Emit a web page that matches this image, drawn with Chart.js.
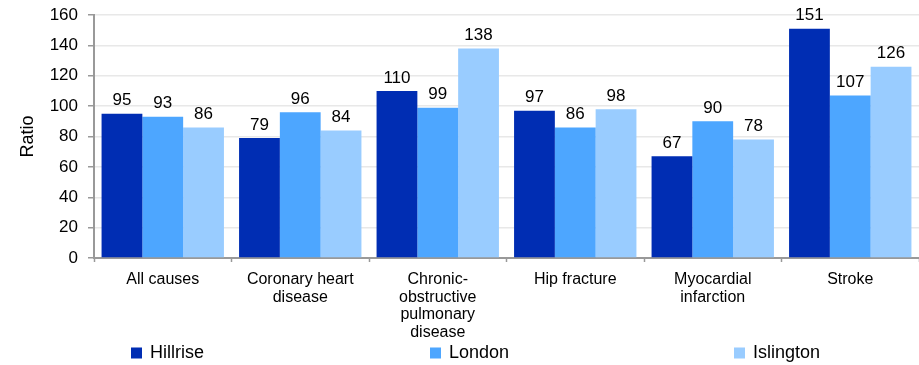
<!DOCTYPE html>
<html>
<head>
<meta charset="utf-8">
<script src="https://cdn.jsdelivr.net/npm/chart.js@4"></script>
<style>
  html, body { margin: 0; padding: 0; background: #fff; }
  #wrap { width: 919px; height: 365px; }
</style>
</head>
<body>
<div id="wrap"><canvas id="bar_chart" width="919" height="365"></canvas></div>
<script>
// categories and values
const categories = [
  'All causes',
  ['Coronary heart', 'disease'],
  ['Chronic-', 'obstructive', 'pulmonary', 'disease'],
  'Hip fracture',
  ['Myocardial', 'infarction'],
  'Stroke'
];
const hillrise  = [95, 79, 110, 97, 67, 151];
const london    = [93, 96, 99, 86, 90, 107];
const islington = [86, 84, 138, 98, 78, 126];
const yTicks    = [0, 20, 40, 60, 80, 100, 120, 140, 160];

const FONT = '"Liberation Sans", Arial, sans-serif';

// value labels above each bar
const valueLabels = {
  id: 'valueLabels',
  afterDatasetsDraw(chart) {
    const ctx = chart.ctx;
    ctx.save();
    ctx.font = '17px ' + FONT;
    ctx.fillStyle = '#000';
    ctx.textAlign = 'center';
    ctx.textBaseline = 'middle';
    chart.data.datasets.forEach((ds, i) => {
      chart.getDatasetMeta(i).data.forEach((bar, j) => {
        ctx.fillText(ds.data[j], bar.x, bar.y - 13);
      });
    });
    ctx.restore();
  }
};

// legend spread out along the bottom like the original
const spreadLegend = {
  id: 'spreadLegend',
  afterDraw(chart, args, opts) {
    const ctx = chart.ctx;
    ctx.save();
    ctx.font = '18px ' + FONT;
    ctx.textBaseline = 'middle';
    ctx.textAlign = 'left';
    chart.data.datasets.forEach((ds, i) => {
      const x = opts.xs[i];
      ctx.fillStyle = ds.backgroundColor;
      ctx.fillRect(x, opts.y - 5.5, 11, 11);
      ctx.fillStyle = '#000';
      ctx.fillText(ds.label, x + 19, opts.y);
    });
    ctx.restore();
  }
};

function dummyBarChart() {
  const ctx = document.getElementById('bar_chart');

  new Chart(ctx, {
    type: 'bar',
    data: {
      labels: categories,
      datasets: [
        { label: 'Hillrise',  data: hillrise,  backgroundColor: '#002DB3' },
        { label: 'London',    data: london,    backgroundColor: '#4DA6FF' },
        { label: 'Islington', data: islington, backgroundColor: '#99CCFF' }
      ]
    },
    plugins: [valueLabels, spreadLegend],
    options: {
      responsive: false,
      animation: false,
      layout: { padding: { top: 15, right: 0, bottom: 0, left: 0 } },
      datasets: {
        bar: { categoryPercentage: 0.89, barPercentage: 1.0 }
      },
      scales: {
        x: {
          offset: true,
          grid: {
            offset: true,
            drawOnChartArea: false,
            drawTicks: true,
            tickLength: 4,
            tickColor: '#999',
            tickWidth: 1.5
          },
          border: { color: '#999', width: 2 },
          ticks: {
            color: '#000',
            padding: 9,
            maxRotation: 0,
            autoSkip: false,
            font: { family: FONT, size: 16, lineHeight: 1.1 }
          },
          afterFit: (scale) => { scale.height = 107; }
        },
        y: {
          min: 0,
          max: 160,
          afterBuildTicks: (scale) => {
            scale.ticks = yTicks.map(v => ({ value: v }));
          },
          grid: {
            color: '#e8e8e8',
            lineWidth: 1.5,
            drawTicks: true,
            tickLength: 6,
            tickColor: '#999',
            tickWidth: 1.5
          },
          border: { color: '#999', width: 2 },
          ticks: {
            color: '#000',
            padding: 10,
            font: { family: FONT, size: 17 }
          },
          title: {
            display: true,
            text: 'Ratio',
            color: '#000',
            padding: { top: 17, bottom: 11 },
            font: { family: FONT, size: 18 }
          },
          afterFit: (scale) => {
            scale.width = 94;
            // keep the top of the plot where the original has it
            scale.paddingTop = 0;
            scale.paddingBottom = 0;
          }
        }
      },
      plugins: {
        legend: { display: false },
        tooltip: { enabled: false },
        spreadLegend: { xs: [131, 430, 734], y: 353 }
      }
    }
  });
}

dummyBarChart();
</script>
</body>
</html>
